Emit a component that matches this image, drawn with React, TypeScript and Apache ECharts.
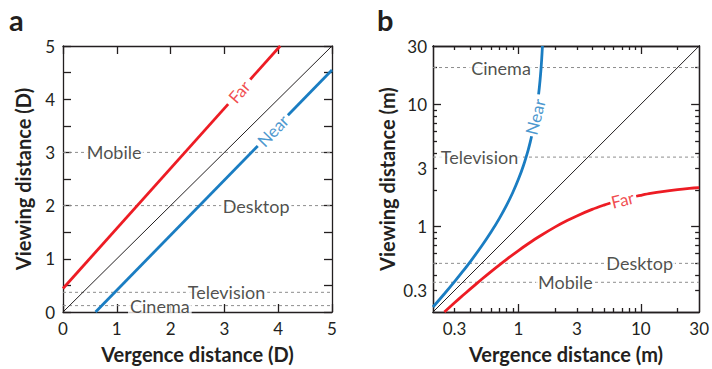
import { useEffect, useRef } from "react";
import * as echarts from "echarts";

// ---- Panel a: distances in diopters ----
const dioptreLimits = [0, 5];
const dioptreDiagonal = [[0, 0], [5, 5]];
// each curve is stored as two segments; the break leaves room for its name
const farDioptre = [
  [[0, 0.442], [3.07, 3.908]],
  [[3.48, 4.371], [4.037, 5]],
];
const nearDioptre = [
  [[0.605, 0], [3.62, 3.121]],
  [[4.18, 3.7], [5, 4.549]],
];
const farDioptreTag = [3.275, 4.14];
const nearDioptreTag = [3.9, 3.41];

const devices = ["Mobile", "Desktop", "Television", "Cinema"];
const deviceDioptre = [3, 2, 0.37, 0.12];
const deviceDioptreTagX = [0.95, 3.59, 3.04, 1.8];

// ---- Panel b: distances in metres ----
const metreLimits = [0.2, 30];
const metreDiagonal = [[0.2, 0.2], [30, 30]];
const farMetre = [
  [
    [0.2477, 0.2], [0.3, 0.2378], [0.35, 0.2727], [0.4, 0.3063], [0.5, 0.3704],
    [0.6, 0.4304], [0.7, 0.4866], [0.8, 0.5396], [1, 0.6365], [1.2, 0.7232],
    [1.5, 0.837], [2, 0.9935], [2.5, 1.1191], [3, 1.222], [4, 1.381],
    [5, 1.4975], [5.65, 1.558],
  ],
  [
    [9.17, 1.77], [10, 1.802], [12, 1.8654], [15, 1.933], [20, 2.006],
    [25, 2.0527], [30, 2.085],
  ],
];
const nearMetre = [
  [
    [0.2, 0.2198], [0.25, 0.2846], [0.3, 0.3541], [0.35, 0.429], [0.4, 0.5098],
    [0.5, 0.6925], [0.6, 0.9099], [0.7, 1.173], [0.8, 1.4976], [0.9, 1.908],
    [1, 2.445], [1.1, 3.1755], [1.2, 4.228], [1.25, 4.95], [1.28, 5.477],
  ],
  [
    [1.46, 12.06], [1.48, 13.64], [1.5, 15.63], [1.53, 19.81], [1.55, 23.96],
    [1.57, 30],
  ],
];
const farMetreTag = [7.1, 1.66];
const nearMetreTag = [1.37, 7.9];

const deviceMetre = [0.35, 0.5, 3.7, 20];
const deviceMetreTagX = [2.42, 9.8, 0.48, 0.72];

const logLabelValues = [0.3, 1, 3, 10, 30];
const logMinorValues = [0.3, 0.4, 0.5, 0.6, 0.7, 0.8, 0.9, 2, 3, 4, 5, 6, 7, 8, 9, 20];
const logMajorValues = [1, 10];

const RED = "#ed1c24";
const BLUE = "#1a7dc2";
const INK = "#231f20";
const GUIDE = "#8e8e8e";
const FONT = "Lato, 'Open Sans', sans-serif";

const lineStyle = { color: INK, width: 1.3 };
const titleStyle = { fontWeight: "bold" as const, fontSize: 20, color: INK, fontFamily: FONT };
const tickText = { fontSize: 17, color: INK, fontFamily: FONT };

function linearAxis(grid: number, position: string, interval: number, extra: any = {}) {
  return {
    gridIndex: grid,
    type: "value",
    position,
    min: dioptreLimits[0],
    max: dioptreLimits[1],
    interval,
    axisLine: { show: true, onZero: false, lineStyle },
    axisTick: { show: true, inside: true, length: 8, lineStyle },
    axisLabel: { show: false },
    splitLine: { show: false },
    ...extra,
  };
}

function logAxis(grid: number, position: string, ticks: number[], len: number, extra: any = {}) {
  return {
    gridIndex: grid,
    type: "log",
    logBase: 10,
    position,
    min: metreLimits[0],
    max: metreLimits[1],
    axisLine: { show: true, onZero: false, lineStyle },
    axisTick: { show: true, inside: true, length: len, lineStyle, customValues: ticks },
    axisLabel: { show: false },
    minorTick: { show: false },
    splitLine: { show: false },
    ...extra,
  };
}

function segmentSeries(segs: number[][][], color: string, xi: number, yi: number) {
  return segs.map((seg) => ({
    type: "line",
    xAxisIndex: xi,
    yAxisIndex: yi,
    data: seg,
    showSymbol: false,
    smooth: 0.3,
    lineStyle: { color, width: 2.8 },
    z: 5,
  }));
}

function tagSeries(name: string, pos: number[], color: string, rotate: number, xi: number, yi: number) {
  return {
    type: "scatter",
    xAxisIndex: xi,
    yAxisIndex: yi,
    symbolSize: 0,
    data: [{ name, value: pos }],
    label: {
      show: true,
      position: "inside",
      formatter: "{b}",
      rotate,
      color,
      fontSize: 17,
      fontFamily: FONT,
    },
    z: 6,
  };
}

function guideSeries(levels: number[], limits: number[], xi: number, yi: number) {
  return levels.map((lv) => ({
    type: "line",
    xAxisIndex: xi,
    yAxisIndex: yi,
    data: [[limits[0], lv], [limits[1], lv]],
    showSymbol: false,
    lineStyle: { color: GUIDE, width: 1, type: [3, 3] },
    z: 2,
  }));
}

function deviceTagSeries(xs: number[], levels: number[], xi: number, yi: number) {
  return {
    type: "scatter",
    xAxisIndex: xi,
    yAxisIndex: yi,
    symbolSize: 0,
    data: devices.map((d, i) => ({ name: d, value: [xs[i], levels[i]] })),
    label: {
      show: true,
      position: "inside",
      formatter: "{b}",
      color: INK,
      fontSize: 18,
      fontFamily: FONT,
      backgroundColor: "#ffffff",
      padding: [0, 2],
    },
    z: 3,
  };
}

function diagonalSeries(data: number[][], xi: number, yi: number) {
  return {
    type: "line",
    xAxisIndex: xi,
    yAxisIndex: yi,
    data,
    showSymbol: false,
    lineStyle: { color: INK, width: 1 },
    z: 4,
  };
}

export default function App() {
  const ref = useRef<HTMLDivElement>(null);

  useEffect(() => {
    if (!ref.current) return;
    const chart = echarts.init(ref.current, null, { renderer: "svg" });
    chart.setOption({
      animation: false,
      backgroundColor: "#ffffff",
      grid: [
        { left: 63, top: 46, width: 269, height: 269 },
        { left: 433, top: 46, width: 269, height: 269 },
      ],
      xAxis: [
        linearAxis(0, "bottom", 1, {
          axisLabel: { show: true, margin: 8, ...tickText },
          name: "Vergence distance (D)",
          nameLocation: "middle",
          nameGap: 32,
          nameTextStyle: titleStyle,
        }),
        linearAxis(0, "top", 1),
        logAxis(1, "bottom", logMinorValues, 4, {
          axisLabel: { show: true, margin: 8, customValues: logLabelValues, ...tickText },
          name: "Vergence distance (m)",
          nameLocation: "middle",
          nameGap: 32,
          nameTextStyle: titleStyle,
        }),
        logAxis(1, "bottom", logMajorValues, 8),
        logAxis(1, "top", logMinorValues, 4),
        logAxis(1, "top", logMajorValues, 8),
      ],
      yAxis: [
        linearAxis(0, "left", 0.5, {
          axisLabel: {
            show: true,
            margin: 8,
            ...tickText,
            formatter: (v: number) => (Number.isInteger(v) ? String(v) : ""),
          },
          name: "Viewing distance (D)",
          nameLocation: "middle",
          nameGap: 30,
          nameTextStyle: titleStyle,
        }),
        linearAxis(0, "right", 0.5),
        logAxis(1, "left", logMinorValues, 4, {
          axisLabel: { show: true, margin: 6, customValues: logLabelValues, ...tickText },
          name: "Viewing distance (m)",
          nameLocation: "middle",
          nameGap: 36,
          nameTextStyle: titleStyle,
        }),
        logAxis(1, "left", logMajorValues, 8),
        logAxis(1, "right", logMinorValues, 4),
        logAxis(1, "right", logMajorValues, 8),
      ],
      graphic: [
        { type: "text", left: 9, top: 5, style: { text: "a", fontSize: 29, fontWeight: "bold", fill: INK, fontFamily: FONT } },
        { type: "text", left: 377, top: 5, style: { text: "b", fontSize: 29, fontWeight: "bold", fill: INK, fontFamily: FONT } },
      ],
      series: [
        // panel a
        ...guideSeries(deviceDioptre, dioptreLimits, 0, 0),
        deviceTagSeries(deviceDioptreTagX, deviceDioptre, 0, 0),
        diagonalSeries(dioptreDiagonal, 0, 0),
        ...segmentSeries(farDioptre, RED, 0, 0),
        ...segmentSeries(nearDioptre, BLUE, 0, 0),
        tagSeries("Far", farDioptreTag, RED, 48.5, 0, 0),
        tagSeries("Near", nearDioptreTag, BLUE, 46, 0, 0),
        // panel b
        ...guideSeries(deviceMetre, metreLimits, 2, 2),
        deviceTagSeries(deviceMetreTagX, deviceMetre, 2, 2),
        diagonalSeries(metreDiagonal, 2, 2),
        ...segmentSeries(farMetre, RED, 2, 2),
        ...segmentSeries(nearMetre, BLUE, 2, 2),
        tagSeries("Far", farMetreTag, RED, 14, 2, 2),
        tagSeries("Near", nearMetreTag, BLUE, 76, 2, 2),
      ],
    });
    return () => chart.dispose();
  }, []);

  return (
    <div
      ref={ref}
      style={{ position: "absolute", left: 0, top: 0, width: 712, height: 369 }}
    />
  );
}
